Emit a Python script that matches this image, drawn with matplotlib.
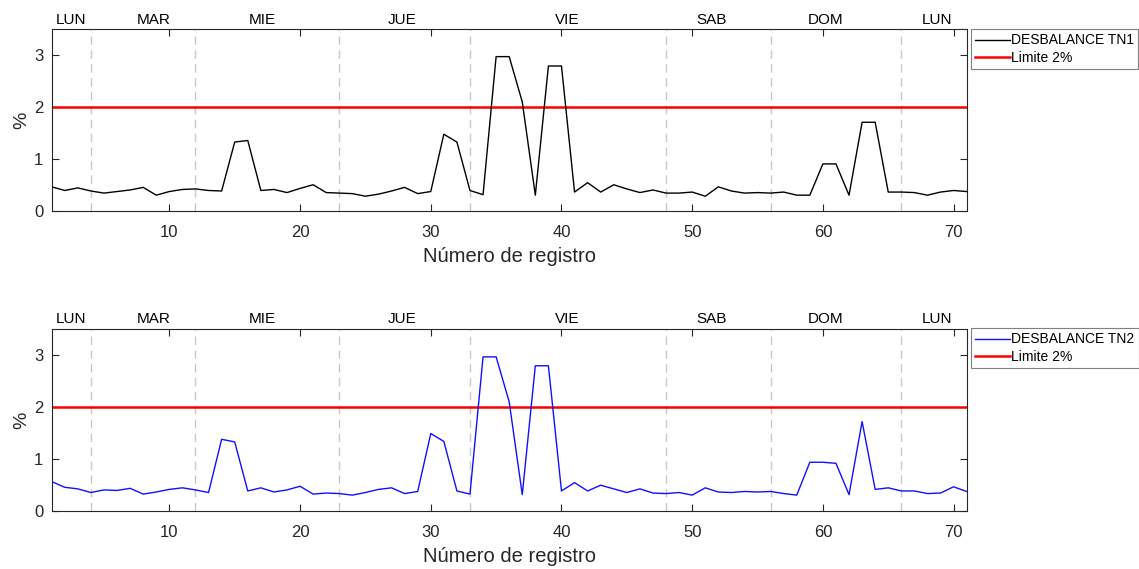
import matplotlib
matplotlib.use("Agg")
import matplotlib.pyplot as plt
import numpy as np

plt.rcParams['font.family'] = ['Liberation Sans', 'DejaVu Sans']

registro = list(range(1, 72))
tn1 = [0.47, 0.40, 0.45, 0.39, 0.35, 0.38, 0.41, 0.46, 0.31, 0.38,
       0.42, 0.43, 0.40, 0.39, 1.33, 1.36, 0.40, 0.42, 0.36, 0.44,
       0.51, 0.36, 0.35, 0.34, 0.29, 0.33, 0.39, 0.46, 0.34, 0.38,
       1.48, 1.33, 0.40, 0.32, 2.97, 2.97, 2.10, 0.31, 2.79, 2.79,
       0.37, 0.55, 0.37, 0.51, 0.43, 0.36, 0.41, 0.35, 0.35, 0.37,
       0.29, 0.47, 0.39, 0.35, 0.36, 0.35, 0.37, 0.31, 0.31, 0.91,
       0.91, 0.31, 1.71, 1.71, 0.37, 0.37, 0.36, 0.31, 0.37, 0.40,
       0.38]
tn2 = [0.57, 0.46, 0.43, 0.36, 0.41, 0.40, 0.44, 0.33, 0.37, 0.42,
       0.45, 0.41, 0.36, 1.38, 1.33, 0.39, 0.45, 0.37, 0.41, 0.48,
       0.33, 0.35, 0.34, 0.31, 0.36, 0.42, 0.45, 0.34, 0.38, 1.49,
       1.34, 0.39, 0.33, 2.96, 2.96, 2.10, 0.32, 2.79, 2.79, 0.39,
       0.55, 0.39, 0.50, 0.43, 0.36, 0.43, 0.35, 0.34, 0.36, 0.31,
       0.45, 0.37, 0.36, 0.38, 0.37, 0.38, 0.34, 0.31, 0.94, 0.94,
       0.92, 0.32, 1.72, 0.42, 0.45, 0.39, 0.39, 0.34, 0.35, 0.47,
       0.38]
limite = 2.0
day_boundaries = [4, 12, 23, 33, 48, 56, 66]
day_labels = ['LUN', 'MAR', 'MIE', 'JUE', 'VIE', 'SAB', 'DOM', 'LUN']
day_label_x = [2.5, 8.8, 17.1, 27.8, 40.4, 51.5, 60.2, 68.7]
xticks = [10, 20, 30, 40, 50, 60, 70]
yticks = [0, 1, 2, 3]

fig = plt.figure(figsize=(11.39, 5.69), dpi=100)
axc = '#262626'

panels = [
    (tn1, 'DESBALANCE TN1', 'black', [0.0454, 0.6286, 0.8033, 0.3204], 29.3),
    (tn2, 'DESBALANCE TN2', '#1010ff', [0.0454, 0.1014, 0.8033, 0.3209], 328.3),
]

for data, name, color, pos, leg_top in panels:
    ax = fig.add_axes(pos)
    for b in day_boundaries:
        ax.axvline(b, color='#c8c8c8', lw=1.0, ls=(0, (6, 4)), zorder=1)
    ax.plot(registro, data, color=color, lw=1.0, label=name, zorder=3)
    ax.axhline(limite, color='red', lw=1.8, label='Limite 2%', zorder=2)
    ax.set_xlim(1, 71)
    ax.set_ylim(0, 3.5)
    ax.set_xticks(xticks)
    ax.set_yticks(yticks)
    ax.tick_params(direction='in', top=True, right=True, length=5,
                   width=0.8, colors=axc, labelsize=12)
    ax.tick_params(axis='x', pad=10)
    ax.tick_params(axis='y', pad=6)
    for s in ax.spines.values():
        s.set_color(axc)
        s.set_linewidth(0.8)
    ax.set_xlabel('Número de registro', fontsize=14.5, color=axc, labelpad=5)
    ax.set_ylabel('%', fontsize=14, color=axc, labelpad=3)
    for lx, lt in zip(day_label_x, day_labels):
        ax.text(lx, 1.03, lt, transform=ax.get_xaxis_transform(),
                ha='center', va='baseline', fontsize=11, color='black')
    leg = ax.legend(loc='upper left',
                    bbox_to_anchor=(970.7 / 1139, 1 - leg_top / 569),
                    bbox_transform=fig.transFigure, fontsize=10,
                    frameon=True, fancybox=False, edgecolor='#808080',
                    framealpha=1, handlelength=2.5, handletextpad=0.12,
                    borderpad=0.3, labelspacing=0.25, borderaxespad=0)
    leg.get_frame().set_linewidth(0.8)

fig.savefig('out.png', dpi=100)
